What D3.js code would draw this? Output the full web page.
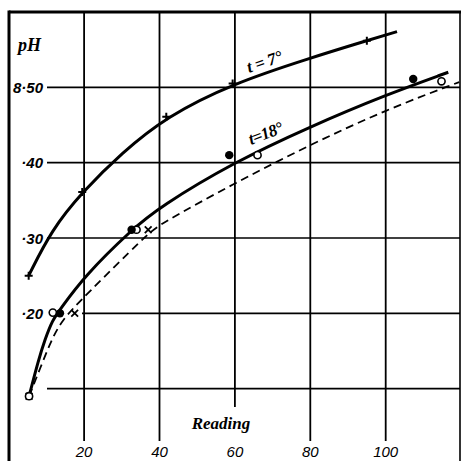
<!DOCTYPE html>
<html><head><meta charset="utf-8">
<script src="https://cdn.jsdelivr.net/npm/d3@7"></script>
<style>html,body{margin:0;padding:0;background:#fff;}svg{display:block;}</style>
</head><body>
<script>
// ---- data ----
const xTicks = [20, 40, 60, 80, 100];
const xTickLabels = ["20", "40", "60", "80", "100"];
const yTicks = [8.10, 8.20, 8.30, 8.40, 8.50];
const yTickLabels = ["", "·20", "·30", "·40", "8·50"];

// t = 7° curve and its "+" observations
const t7Curve = [[5.3,8.25],[11.4,8.311],[19.5,8.361],[30,8.413],[41.8,8.461],[59.4,8.505],[80,8.539],[95,8.562],[103,8.574]];
const t7Plus = [[5.3,8.25],[19.5,8.361],[41.8,8.461],[59.4,8.505],[95,8.562]];

// t = 18° solid curve, filled and open circles
const t18Curve = [[5.4,8.09],[7.9,8.138],[9.6,8.165],[11.6,8.191],[13.6,8.205],[20,8.249],[32.6,8.311],[40,8.341],[59.5,8.40],[80,8.448],[100,8.49],[116.6,8.52]];
const t18Filled = [[13.6,8.20],[32.6,8.311],[58.5,8.41],[107.3,8.511]];
const t18Open = [[11.7,8.201],[33.9,8.311],[66.0,8.41],[114.8,8.508]];

// dashed curve and its "x" observations
const dashCurve = [[5.4,8.09],[6.2,8.10],[9.2,8.138],[11.4,8.165],[14.1,8.191],[20,8.222],[37,8.306],[40,8.318],[60,8.373],[80,8.424],[100,8.47],[119.5,8.507]];
const dashCross = [[17.5,8.20],[37.0,8.311]];

// common starting point
const startPoint = [[5.4, 8.09]];

// ---- drawing ----
const W = 461, H = 461;
const svg = d3.select("body").append("svg").attr("width", W).attr("height", H);
const x = d3.scaleLinear().domain([0, 120]).range([8.7, 461.1]);
const y = d3.scaleLinear().domain([8.0, 8.6]).range([464, 12]);

const ink = "#000";
const g = svg.append("g");

// vertical grid lines
g.selectAll("line.vg").data(xTicks).join("line")
  .attr("x1", d => x(d)).attr("x2", d => x(d))
  .attr("y1", 12).attr("y2", d => d === 60 ? 407 : 441)
  .attr("stroke", ink).attr("stroke-width", 1.8);

// horizontal grid lines
g.selectAll("line.hg").data(yTicks).join("line")
  .attr("x1", d => Math.abs(d - 8.20) < 1e-6 ? 82 : 47).attr("x2", 460)
  .attr("y1", d => y(d)).attr("y2", d => y(d))
  .attr("stroke", ink).attr("stroke-width", 1.6);

// frame
g.append("line").attr("x1", 9).attr("x2", 461).attr("y1", 12).attr("y2", 12).attr("stroke", ink).attr("stroke-width", 3);
g.append("line").attr("x1", 9).attr("x2", 9).attr("y1", 10.5).attr("y2", 461).attr("stroke", ink).attr("stroke-width", 3);
g.append("line").attr("x1", 460).attr("x2", 460).attr("y1", 12).attr("y2", 461).attr("stroke", ink).attr("stroke-width", 1.6);

// tick labels
g.selectAll("text.xl").data(xTicks).join("text")
  .attr("x", (d) => x(d)).attr("y", 457)
  .attr("text-anchor", "middle")
  .attr("font-family", "Liberation Sans, Arial, sans-serif").attr("font-style", "italic")
  .attr("font-size", 15)
  .text((d, i) => xTickLabels[i]);

g.selectAll("text.yl").data(yTicks).join("text")
  .attr("x", 43).attr("y", d => y(d) + 5.5)
  .attr("text-anchor", "end")
  .attr("font-family", "Liberation Sans, Arial, sans-serif").attr("font-style", "italic").attr("font-weight", "bold")
  .attr("font-size", 15)
  .text((d, i) => yTickLabels[i]);

g.append("text").attr("x", 18).attr("y", 51)
  .attr("font-family", "Liberation Serif, serif").attr("font-style", "italic").attr("font-weight", "bold")
  .attr("font-size", 18).text("pH");

g.append("text").attr("x", 221).attr("y", 429).attr("text-anchor", "middle")
  .attr("font-family", "Liberation Serif, serif").attr("font-style", "italic").attr("font-weight", "bold")
  .attr("font-size", 17).text("Reading");

// curves
const line = d3.line().x(d => x(d[0])).y(d => y(d[1])).curve(d3.curveBasis);
g.append("path").attr("d", line(t7Curve)).attr("fill", "none").attr("stroke", ink).attr("stroke-width", 3);
g.append("path").attr("d", line(t18Curve)).attr("fill", "none").attr("stroke", ink).attr("stroke-width", 3);
g.append("path").attr("d", line(dashCurve)).attr("fill", "none").attr("stroke", ink).attr("stroke-width", 1.8)
  .attr("stroke-dasharray", "8,5");

// curve labels
g.append("text").attr("transform", "translate(249,73) rotate(-19)")
  .attr("font-family", "Liberation Serif, serif").attr("font-style", "italic").attr("font-weight", "bold")
  .attr("font-size", 17).attr("letter-spacing", "-0.3").text("t = 7°");
g.append("text").attr("transform", "translate(251,145) rotate(-21)")
  .attr("font-family", "Liberation Serif, serif").attr("font-style", "italic").attr("font-weight", "bold")
  .attr("font-size", 17).attr("letter-spacing", "-0.6").text("t=18°");

// markers
const plusPath = (px, py, s) => `M${px - s},${py}H${px + s}M${px},${py - s}V${py + s}`;
const crossPath = (px, py, s) => `M${px - s},${py - s}L${px + s},${py + s}M${px - s},${py + s}L${px + s},${py - s}`;

g.selectAll("path.plus").data(t7Plus).join("path")
  .attr("d", d => plusPath(x(d[0]), y(d[1]), 4)).attr("stroke", ink).attr("stroke-width", 2);

g.selectAll("path.cross").data(dashCross.concat(startPoint)).join("path")
  .attr("d", d => crossPath(x(d[0]), y(d[1]), 3.4)).attr("stroke", ink).attr("stroke-width", 1.8);

g.selectAll("circle.open").data(t18Open.concat(startPoint)).join("circle")
  .attr("cx", d => x(d[0])).attr("cy", d => y(d[1])).attr("r", 3.6)
  .attr("fill", "#fff").attr("stroke", ink).attr("stroke-width", 1.6);

g.selectAll("circle.filled").data(t18Filled).join("circle")
  .attr("cx", d => x(d[0])).attr("cy", d => y(d[1])).attr("r", 4.2)
  .attr("fill", ink);
</script>
</body></html>
